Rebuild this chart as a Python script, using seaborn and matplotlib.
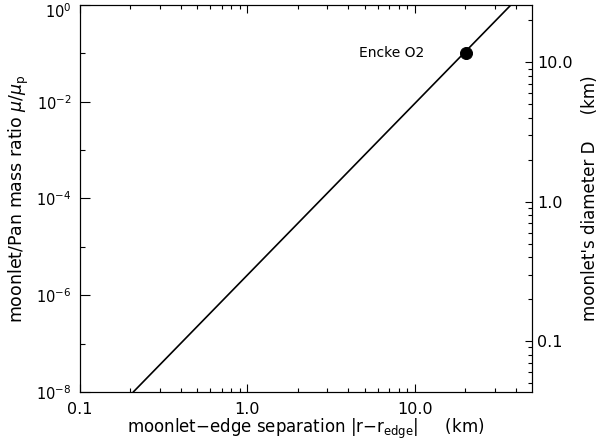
import numpy as np
import pandas as pd
import matplotlib
matplotlib.use("Agg")
import matplotlib.pyplot as plt
import matplotlib.ticker as mticker
import matplotlib.transforms as mtransforms
import seaborn as sns

# ---- data ----
separation_km = [0.208, 37.4]
mass_ratio = [1e-8, 1.0]
encke_sep = [20.1]
encke_mu = [0.104]
encke_label = "Encke O2"

x_ticks = [0.1, 1.0, 10.0]
x_ticklabels = ["0.1", "1.0", "10.0"]
y_ticks = [1e0, 1e-2, 1e-4, 1e-6, 1e-8]
y_ticklabels = [r"$10^{0}$", r"$10^{-2}$", r"$10^{-4}$", r"$10^{-6}$", r"$10^{-8}$"]
y_minor = [1e-1, 1e-3, 1e-5, 1e-7]
d_ticks = [0.1, 1.0, 10.0]
d_ticklabels = ["0.1", "1.0", "10.0"]

xlim = (0.1, 49.8)
ylim = (1e-8, 1.0)
dlim = (0.0431, 25.8)

sns.set_theme(style="ticks")
plt.rcParams["font.family"] = ["DejaVu Sans"]
plt.rcParams["mathtext.fontset"] = "dejavusans"
plt.rcParams["text.color"] = "black"
plt.rcParams["axes.labelcolor"] = "black"
plt.rcParams["xtick.color"] = "black"
plt.rcParams["ytick.color"] = "black"

fig = plt.figure(figsize=(5.99, 4.44), dpi=100)
ax = fig.add_axes([80/599, 1-392/444, (531.7-80)/599, (392-5)/444])

line_df = pd.DataFrame({"sep": separation_km, "mu": mass_ratio})
sns.lineplot(data=line_df, x="sep", y="mu", ax=ax, color="black", lw=1.2)
pt_df = pd.DataFrame({"sep": encke_sep, "mu": encke_mu})
sns.scatterplot(data=pt_df, x="sep", y="mu", ax=ax, color="black", s=75,
                edgecolor="black", zorder=5)
ax.annotate(encke_label, (encke_sep[0], encke_mu[0]), xytext=(-30, 0),
            textcoords="offset points", ha="right", va="center", fontsize=10,
            color="black")

ax.set_xscale("log")
ax.set_yscale("log")
ax.set_xlim(*xlim)
ax.set_ylim(*ylim)

ax.xaxis.set_major_locator(mticker.FixedLocator(x_ticks))
ax.xaxis.set_major_formatter(mticker.FixedFormatter(x_ticklabels))
ax.xaxis.set_minor_locator(mticker.LogLocator(base=10, subs=np.arange(2, 10), numticks=20))
ax.xaxis.set_minor_formatter(mticker.NullFormatter())
ax.yaxis.set_major_locator(mticker.FixedLocator(y_ticks))
ax.yaxis.set_major_formatter(mticker.FixedFormatter(y_ticklabels))
ax.yaxis.set_minor_locator(mticker.FixedLocator(y_minor))
ax.yaxis.set_minor_formatter(mticker.NullFormatter())

for s in ax.spines.values():
    s.set_linewidth(0.8)
    s.set_color("black")
    s.set_visible(True)

ax.tick_params(axis="x", which="major", direction="in", length=5.5, width=0.8,
               top=True, bottom=True, labelsize=11.5, pad=7, colors="black")
ax.tick_params(axis="x", which="minor", direction="in", length=3, width=0.8,
               top=True, bottom=True, colors="black")
ax.tick_params(axis="y", which="major", direction="in", length=7.5, width=0.8,
               left=True, right=False, labelsize=10.5, pad=6, colors="black")
ax.tick_params(axis="y", which="minor", direction="in", length=3.8, width=0.8,
               left=True, right=False, colors="black")

ax.set_xlabel(r"moonlet$-$edge separation |r$-$r$_{\rm edge}$|     (km)",
              fontsize=12, labelpad=0, color="black")
ax.set_ylabel(r"moonlet/Pan mass ratio $\mu/\mu_{\rm p}$", fontsize=12.5,
              labelpad=4, color="black")

ax2 = ax.twinx()
ax2.set_yscale("log")
ax2.set_ylim(*dlim)
ax2.yaxis.set_major_locator(mticker.FixedLocator(d_ticks))
ax2.yaxis.set_major_formatter(mticker.FixedFormatter(d_ticklabels))
ax2.yaxis.set_minor_locator(mticker.LogLocator(base=10, subs=np.arange(2, 10), numticks=20))
ax2.yaxis.set_minor_formatter(mticker.NullFormatter())
ax2.tick_params(axis="y", which="major", direction="in", length=5, width=0.8,
                labelsize=11.5, pad=4, colors="black")
ax2.tick_params(axis="y", which="minor", direction="in", length=3, width=0.8,
                colors="black")
ax2.set_ylabel("moonlet's diameter D     (km)", fontsize=12, labelpad=6, color="black")
for s in ax2.spines.values():
    s.set_linewidth(0.8)
    s.set_color("black")

fig.canvas.draw()
# nudge the top label down so it is not clipped at the figure edge
top_lbl = ax.get_yticklabels()[0]
top_lbl.set_transform(top_lbl.get_transform() +
                      mtransforms.ScaledTranslation(0, -4/72, fig.dpi_scale_trans))

fig.savefig("out.png", dpi=100)
